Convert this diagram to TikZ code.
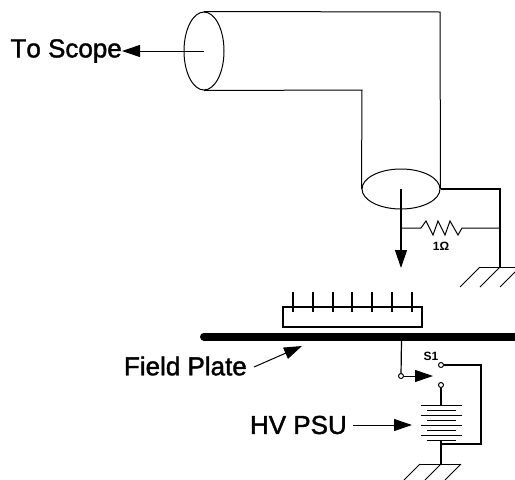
\documentclass[tikz,border=0pt]{standalone}
\usepackage{fontspec}
\setmainfont{Liberation Sans}
\newfontfamily\heavyfont[FakeBold=1.5,Kerning=Off]{Liberation Sans}
\usepackage{tikz}
\usetikzlibrary{positioning,arrows.meta,shapes.geometric}

\begin{document}
\begin{tikzpicture}[
    x=1pt, y=-1pt,
    wire/.style={draw, line width=1.2pt},
    thinwire/.style={draw, line width=1pt},
    label/.style={font=\fontsize{26}{28}\selectfont\heavyfont, inner sep=0pt},
    small/.style={font=\fontsize{12}{12}\selectfont\bfseries, inner sep=0pt},
    tipbig/.style={-{Triangle[length=18pt,width=12pt]}},
    contact/.style={draw, circle, fill=white, line width=1pt, minimum size=5pt, inner sep=0pt},
  ]
  \useasboundingbox (0,0) rectangle (515,480);
  % coax
  \node[draw, ellipse, line width=1pt, minimum width=40pt, minimum height=78pt, inner sep=0pt] (endscope) at (204,51) {};
  \node[draw, ellipse, line width=1pt, minimum width=78pt, minimum height=40pt, inner sep=0pt] (endbeam) at (401,189) {};
  \draw[thinwire] (endscope.north) -- (440,12) -- (endbeam.east);
  \draw[thinwire] (endscope.south) -- (362,90) -- (endbeam.west);
  \node[label, anchor=east] (scope) at (122,51) {To Scope};
  \draw[thinwire, tipbig] (endscope.center) -- (scope.east);
  % resistor
  \coordinate (rjoin) at (401,228);
  \coordinate (rright) at (500,228);
  \coordinate (gnda) at (500,267);
  \draw[wire, tipbig] (endbeam.center) -- (401,268);
  \draw[thinwire] (rjoin) -- (421,228) -- (426,221) -- (433,235) -- (438,221) -- (445,235) -- (450,221) -- (458,235) -- (462,228) -- (rright);
  \node[small] (ohm) at (441,246) {1Ω};
  \draw[wire] (endbeam.east) -- (500,189) -- (gnda);
  \draw[thinwire] (480,267) -- (515,267);
  \foreach \x in {480,500,520}
    \draw[thinwire] (\x,267) -- (\x-20,287);
  % plate and sensor
  \draw[line width=8pt, line cap=round] (204,336.5) -- (530,336.5);
  \node[draw, line width=1.4pt, minimum width=139pt, minimum height=20pt, inner sep=0pt] (sensor) at (352.5,317) {};
  \foreach \x in {293,313,333,352,372,392,412}
    \draw[wire] (\x,292) -- (\x,312);
  \node[label, anchor=east] (plate) at (247,366) {Field Plate};
  \draw[thinwire, tipbig] (254,367) -- (302,346);
  % switch
  \node[contact] (swin) at (401,376) {};
  \node[contact] (swa) at (441,365) {};
  \node[contact] (swb) at (441,385) {};
  \node[small] (sone) at (431,356) {S1};
  \draw[wire] (401.5,340) -- (swin);
  \draw[thinwire, tipbig] (swin) -- (433,376);
  \coordinate (psutop) at (441,405);
  \coordinate (psubot) at (441,440);
  \coordinate (gndb) at (441,464);
  \draw[wire] (swb) -- (psutop);
  \draw[wire] (swa) -- (481,365) -- (481,444) -- (441,444);
  \draw[wire] (psubot) -- (gndb);
  % cells
  \foreach \y in {405,415,425,435}
    \draw[thinwire] (421,\y) -- (462,\y);
  \foreach \y in {410,420,430,440}
    \draw[thinwire] (427,\y) -- (456,\y);
  \node[label, anchor=east] (psu) at (347,425) {HV PSU};
  \draw[thinwire, tipbig] (353,425) -- (412,425);
  \draw[thinwire] (420,464) -- (461,464);
  \foreach \x in {420,441,461}
    \draw[thinwire] (\x,464) -- (\x-16,480);
\end{tikzpicture}
\end{document}
